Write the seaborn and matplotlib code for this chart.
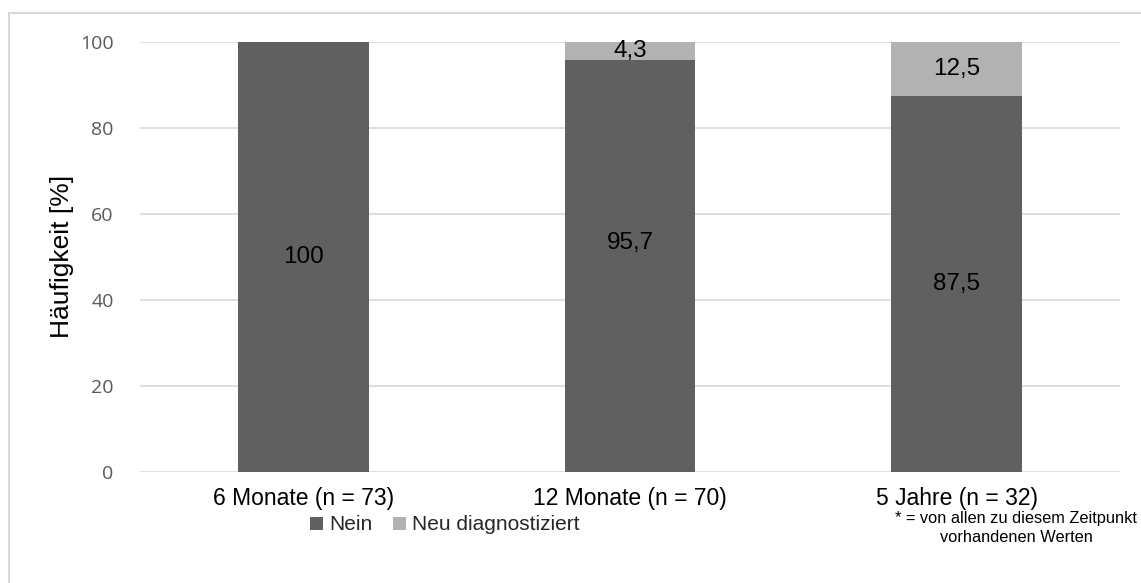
import matplotlib
matplotlib.use("Agg")
import matplotlib.pyplot as plt
import seaborn as sns
import pandas as pd
from matplotlib.patches import Rectangle, Patch

categories = ["6 Monate (n = 73)", "12 Monate (n = 70)", "5 Jahre (n = 32)"]
nein = [100.0, 95.7, 87.5]
neu = [0.0, 4.3, 12.5]
yticks = [0, 20, 40, 60, 80, 100]

# layout only: vertical nudge of the "Nein" value labels (as placed in the reference)
label_nudge = [0, 5.3, 0]

DARK = "#606060"
LIGHT = "#b2b2b2"

sns.set_theme(style="white")
plt.rcParams["font.family"] = ["Liberation Sans", "DejaVu Sans"]

fig = plt.figure(figsize=(11.41, 5.83), dpi=100)
ax = fig.add_axes([140 / 1141, 1 - 472 / 583, 980 / 1141, 430 / 583])

df = pd.DataFrame({"cat": categories, "nein": nein, "neu": neu})
df["total"] = df["nein"] + df["neu"]

sns.barplot(data=df, x="cat", y="total", color=LIGHT, width=0.4, ax=ax,
            saturation=1, linewidth=0, zorder=2)
sns.barplot(data=df, x="cat", y="nein", color=DARK, width=0.4, ax=ax,
            saturation=1, linewidth=0, zorder=3)

def fmt(v):
    if float(v).is_integer():
        return str(int(v))
    return f"{v:.1f}".replace(".", ",")

for i, (a, b) in enumerate(zip(nein, neu)):
    ax.text(i, a / 2 + label_nudge[i], fmt(a), ha="center", va="center", fontsize=17.5,
            color="black", zorder=5)
    if b > 0:
        ax.text(i, a + b / 2, fmt(b), ha="center", va="center", fontsize=17.5,
                color="black", zorder=5)

ax.set_ylim(0, 100)
ax.set_xlim(-0.5, 2.5)
ax.set_yticks(yticks)
ax.set_yticklabels([str(t) for t in yticks], fontsize=14, color="#595959",
                   family=["Open Sans", "DejaVu Sans"])
ax.tick_params(axis="y", length=0, pad=19)
ax.tick_params(axis="x", length=0, pad=11, labelsize=16.5, labelcolor="black")
ax.yaxis.grid(True, color="#d9d9d9", linewidth=1.2, zorder=0)
ax.set_axisbelow(True)
for s in ax.spines.values():
    s.set_visible(False)
ax.set_xlabel("")
ax.set_ylabel("")
fig.text(62 / 1141, 1 - 256 / 583, "Häufigkeit [%]", rotation=90, ha="center", va="center",
         fontsize=19, color="black")

handles = [Patch(facecolor=DARK, edgecolor="none"), Patch(facecolor=LIGHT, edgecolor="none")]
fig.legend(handles, ["Nein", "Neu diagnostiziert"], loc="center",
           bbox_to_anchor=(445 / 1141, 1 - 525 / 583), ncol=2, frameon=False,
           fontsize=15, handlelength=0.6, handleheight=0.6, handletextpad=0.3,
           columnspacing=1.0, borderpad=0.1)

fig.text(1016 / 1141, 1 - 528 / 583, "* = von allen zu diesem Zeitpunkt\nvorhandenen Werten",
         ha="center", va="center", fontsize=11.8, color="black", linespacing=1.3)

fig.patches.append(Rectangle((9 / 1141, -0.05), 1.2, (583 - 13) / 583 + 0.05,
                             transform=fig.transFigure, fill=False,
                             edgecolor="#d9d9d9", linewidth=1.5, zorder=0))

fig.savefig("out.png", dpi=100, facecolor="white")
